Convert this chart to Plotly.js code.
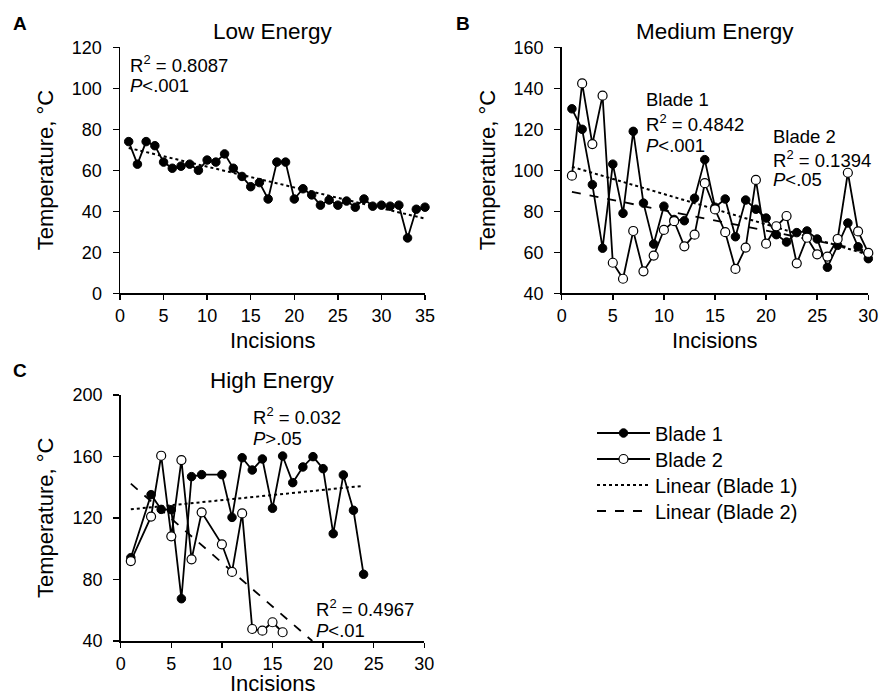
<!DOCTYPE html>
<html><head><meta charset="utf-8">
<script src="https://cdn.plot.ly/plotly-3.0.1.min.js"></script>
<style>html,body{margin:0;padding:0;background:#fff;} #chart{width:880px;height:698px;}</style>
</head><body><div id="chart"></div>
<script>
// ---------- data ----------
const lowX = [1,2,3,4,5,6,7,8,9,10,11,12,13,14,15,16,17,18,19,20,21,22,23,24,25,26,27,28,29,30,31,32,33,34,35];
const lowBlade1 = [74,63,74,72,64,61,62,63,60,65,64,68,61,57,52,54,46,64,64,46,51,48,43,45.5,43,45,42,46,42.5,43,42.5,43,27,41,42];

const medX = [1,2,3,4,5,6,7,8,9,10,11,12,13,14,15,16,17,18,19,20,21,22,23,24,25,26,27,28,29,30];
const medBlade1 = [130,120,93,62,103,79,119,84,64,82.5,76,75.4,86.4,105.2,82,86,67.6,85.5,81,76.7,68.6,65,69.6,70.4,66.5,52.7,63.4,74.3,62.7,56.9];
const medBlade2 = [97.4,142.4,112.8,136.4,54.9,47.1,70.4,50.7,58.4,70.9,75.2,62.9,68.6,93.7,80.9,69.8,51.9,62.3,95.3,64.2,72.7,77.7,54.6,67.1,59,57.9,66.5,98.8,70.2,59.7];

const highX1 = [1,3,4,5,6,7,8,10,11,12,13,14,15,16,17,18,19,20,21,22,23,24];
const highBlade1 = [94.2,135.2,125.6,125.4,67.5,146.9,148.2,148.2,120.4,159.2,151.2,158.4,126.3,160.3,143,153.2,159.9,152.1,109.8,148,125,83.4];
const highX2 = [1,3,4,5,6,7,8,10,11,12,13,14,15,16];
const highBlade2 = [92,120.9,160.5,108.1,157.7,93.1,123.7,102.9,84.9,123,47.8,46.7,52.2,45.7];

const panelTitles = ["Low Energy", "Medium Energy", "High Energy"];
const statsA = ["R<sup>2</sup> = 0.8087", "<i>P</i>&lt;.001"];
const statsB1 = ["Blade 1", "R<sup>2</sup> = 0.4842", "<i>P</i>&lt;.001"];
const statsB2 = ["Blade 2", "R<sup>2</sup> = 0.1394", "<i>P</i>&lt;.05"];
const statsC1 = ["R<sup>2</sup> = 0.032", "<i>P</i>&gt;.05"];
const statsC2 = ["R<sup>2</sup> = 0.4967", "<i>P</i>&lt;.01"];

// ---------- helpers ----------
const W = 880, H = 698;
const px = x => x / W;
const py = y => 1 - y / H;
function fit(xs, ys) {
  const n = xs.length;
  const mx = xs.reduce((a,b)=>a+b,0)/n, my = ys.reduce((a,b)=>a+b,0)/n;
  let sxy = 0, sxx = 0;
  for (let i=0;i<n;i++){ sxy += (xs[i]-mx)*(ys[i]-my); sxx += (xs[i]-mx)**2; }
  const m = sxy/sxx; return {m, b: my - m*mx};
}
function trend(xs, ys, xEnd, yMin) {
  const f = fit(xs, ys);
  const x0 = Math.min(...xs);
  let x1 = xEnd !== undefined ? xEnd : Math.max(...xs);
  if (yMin !== undefined && f.m < 0) x1 = Math.min(x1, (yMin - f.b)/f.m);
  return {x: [x0, x1], y: [f.b + f.m*x0, f.b + f.m*x1]};
}

const FONT = '"Liberation Sans", Arial, Helvetica, sans-serif';
const lineStyle = {color: '#000', width: 1.8};
const filled = {symbol: 'circle', size: 8.5, color: '#000', line: {color:'#000', width: 1}};
const open = {symbol: 'circle', size: 9, color: '#fff', line: {color:'#000', width: 1.2}};

function series(x, y, marker, xa, ya, name, legend) {
  return {type:'scatter', mode:'lines+markers', x, y, xaxis: xa, yaxis: ya, name,
    showlegend: !!legend, legend: legend || 'legend', line: lineStyle, marker, cliponaxis: false, hoverinfo:'skip'};
}
function trendTrace(t, dash, xa, ya, name, legend) {
  return {type:'scatter', mode:'lines', x: t.x, y: t.y, xaxis: xa, yaxis: ya, name,
    showlegend: !!legend, legend: legend || 'legend', line: {color:'#000', width: dash==='dot'?2:1.8, dash}, hoverinfo:'skip'};
}

const tA = trend(lowX, lowBlade1);
const tB1 = trend(medX, medBlade1);
const tB2 = trend(medX, medBlade2);
const tC1 = trend(highX1, highBlade1);
const tC2 = trend(highX2, highBlade2, Math.max(...highX1), 40);

const data = [
  trendTrace(tA, 'dot', 'x', 'y', 'Linear (Blade 1)'),
  series(lowX, lowBlade1, filled, 'x', 'y', 'Blade 1'),
  trendTrace(tB1, 'dot', 'x2', 'y2', 'Linear (Blade 1)', 'legend3'),
  trendTrace(tB2, 'dash', 'x2', 'y2', 'Linear (Blade 2)', 'legend4'),
  series(medX, medBlade1, filled, 'x2', 'y2', 'Blade 1', 'legend'),
  series(medX, medBlade2, open, 'x2', 'y2', 'Blade 2', 'legend2'),
  trendTrace(tC1, 'dot', 'x3', 'y3', 'Linear (Blade 1)'),
  trendTrace(tC2, 'dash', 'x3', 'y3', 'Linear (Blade 2)'),
  series(highX1, highBlade1, filled, 'x3', 'y3', 'Blade 1'),
  series(highX2, highBlade2, open, 'x3', 'y3', 'Blade 2'),
];

function xAxis(d, range, anchor) {
  return {domain: d, range, dtick: 5, tick0: 0, anchor, showline: true, linecolor:'#000', linewidth: 1.5,
    ticks:'outside', ticklen: 5, tickwidth: 1.5, tickcolor:'#000', showgrid:false, zeroline:false,
    tickfont:{family: FONT, size: 18, color:'#000'}, ticklabelstandoff: 1, fixedrange: true};
}
function yAxis(d, range, dtick, anchor) {
  return {domain: d, range, dtick, tick0: 0, anchor, showline: true, linecolor:'#000', linewidth: 1.5,
    ticks:'outside', ticklen: 6, tickwidth: 1.5, tickcolor:'#000', showgrid:false, zeroline:false,
    tickfont:{family: FONT, size: 18, color:'#000'}, ticklabelstandoff: 7, fixedrange: true};
}

const A = {x0:120, x1:425, y0:293.3, y1:47.3};
const B = {x0:561.7, x1:868.3, y0:293.3, y1:47.3};
const C = {x0:120.7, x1:424.3, y0:641, y1:395};

const ann = [];
function text(t, x, y, opts) {
  ann.push(Object.assign({text: t, x: px(x), y: py(y), xref:'paper', yref:'paper', showarrow:false,
    xanchor:'left', yanchor:'middle', font:{family: FONT, size: 18.5, color:'#000'}}, opts || {}));
}
// panel letters
text('<b>A</b>', 20, 23, {xanchor:'center', font:{family:FONT, size:19, color:'#000'}});
text('<b>B</b>', 463, 23, {xanchor:'center', font:{family:FONT, size:19, color:'#000'}});
text('<b>C</b>', 20, 370, {xanchor:'center', font:{family:FONT, size:19, color:'#000'}});
// titles
const tf = {family: FONT, size: 22.5, color:'#000'};
text(panelTitles[0], (A.x0+A.x1)/2, 31, {xanchor:'center', font: tf});
text(panelTitles[1], (B.x0+B.x1)/2, 31, {xanchor:'center', font: tf});
text(panelTitles[2], (C.x0+C.x1)/2, 380, {xanchor:'center', font: tf});
// axis titles
const af = {family: FONT, size: 22, color:'#000'};
text('Incisions', (A.x0+A.x1)/2, 340, {xanchor:'center', font: af});
text('Incisions', (B.x0+B.x1)/2, 340, {xanchor:'center', font: af});
text('Incisions', (C.x0+C.x1)/2, 683, {xanchor:'center', font: af});
text('Temperature, °C', 45, (A.y0+A.y1)/2, {xanchor:'center', textangle:-90, font: af});
text('Temperature, °C', 487, (B.y0+B.y1)/2, {xanchor:'center', textangle:-90, font: af});
text('Temperature, °C', 45, (C.y0+C.y1)/2, {xanchor:'center', textangle:-90, font: af});
// stats
statsA.forEach((s,i) => text(s, 128, 64 + i*22));
statsB1.forEach((s,i) => text(s, 644, 100 + i*22.5));
statsB2.forEach((s,i) => text(s, 771, 137 + i*21.5));
statsC1.forEach((s,i) => text(s, 251, 416 + i*22));
statsC2.forEach((s,i) => text(s, 314, 608 + i*22.5));

function legendAt(yCenter) {
  return {x: px(592), y: py(yCenter), xanchor:'left', yanchor:'middle', bgcolor:'rgba(0,0,0,0)',
    font:{family: FONT, size: 20, color:'#000'}, itemwidth: 53};
}

const layout = {
  width: W, height: H, autosize: false,
  margin: {l:0, r:0, t:0, b:0, pad:0},
  paper_bgcolor:'#fff', plot_bgcolor:'#fff',
  font: {family: FONT, color:'#000'},
  xaxis: xAxis([px(A.x0), px(A.x1)], [0,35], 'y'),
  yaxis: yAxis([py(A.y0), py(A.y1)], [0,120], 20, 'x'),
  xaxis2: xAxis([px(B.x0), px(B.x1)], [0,30], 'y2'),
  yaxis2: yAxis([py(B.y0), py(B.y1)], [40,160], 20, 'x2'),
  xaxis3: xAxis([px(C.x0), px(C.x1)], [0,30], 'y3'),
  yaxis3: yAxis([py(C.y0), py(C.y1)], [40,200], 40, 'x3'),
  showlegend: true,
  legend: legendAt(433),
  legend2: legendAt(459),
  legend3: legendAt(485),
  legend4: legendAt(511),
  annotations: ann,
  hovermode: false
};

Plotly.newPlot('chart', data, layout, {displayModeBar:false, staticPlot:true});
</script></body></html>
